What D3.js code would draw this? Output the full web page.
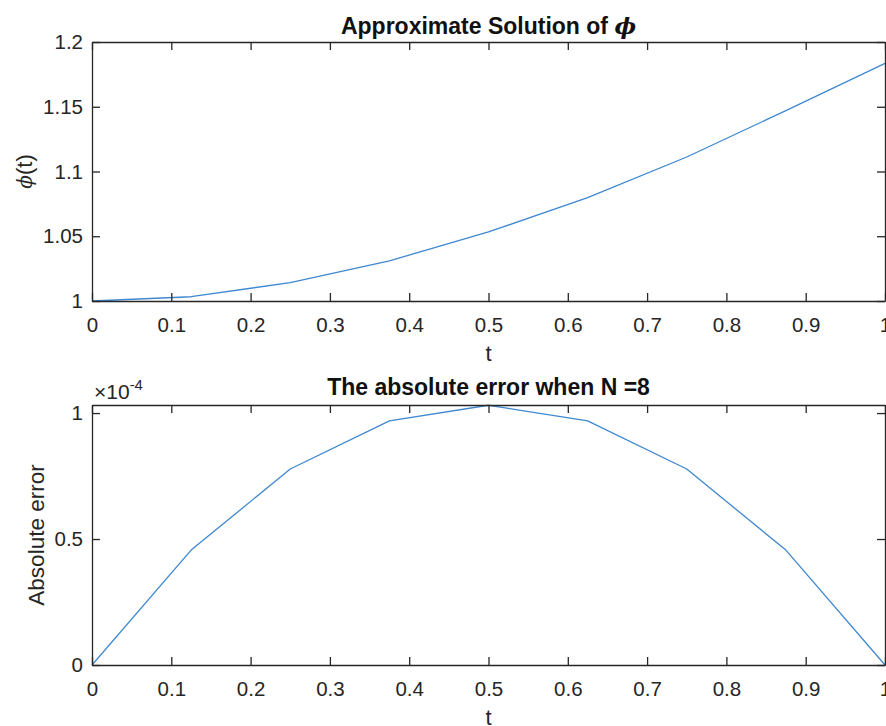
<!DOCTYPE html>
<html>
<head>
<meta charset="utf-8">
<script src="https://cdn.jsdelivr.net/npm/d3@7"></script>
<style>
  html, body { margin: 0; padding: 0; background: #fff; }
  svg { display: block; font-family: "Liberation Sans", Arial, Helvetica, sans-serif; }
</style>
</head>
<body>
<svg id="chart" width="886" height="726"></svg>
<script>
// ---- data ----
const tValues = [0, 0.125, 0.25, 0.375, 0.5, 0.625, 0.75, 0.875, 1];
const phiValues = [1.0, 1.0033, 1.0142, 1.0310, 1.0533, 1.0798, 1.1112, 1.1470, 1.1835];
const errorValues = [0, 0.456e-4, 0.778e-4, 0.969e-4, 1.031e-4, 0.969e-4, 0.778e-4, 0.456e-4, 0];
const xTicks = [0, 0.1, 0.2, 0.3, 0.4, 0.5, 0.6, 0.7, 0.8, 0.9, 1];
const xTickLabels = ["0", "0.1", "0.2", "0.3", "0.4", "0.5", "0.6", "0.7", "0.8", "0.9", "1"];
const phiTicks = [1, 1.05, 1.1, 1.15, 1.2];
const phiTickLabels = ["1", "1.05", "1.1", "1.15", "1.2"];
const errTicks = [0, 0.5e-4, 1e-4];
const errTickLabels = ["0", "0.5", "1"];
const title1 = "Approximate Solution of ";
const title2 = "The absolute error when N =8";

const svg = d3.select("#chart");
const axisColor = "#262626";
const lineColor = "#3f88cf";
const L = 92, R = 885;

function panel(cfg) {
  const x = d3.scaleLinear().domain([0, 1]).range([L, R]);
  const y = d3.scaleLinear().domain(cfg.yDomain).range([cfg.bottom, cfg.top]);
  const g = svg.append("g");

  // line
  const line = d3.line().x((d, i) => x(tValues[i])).y(d => y(d));
  g.append("path").datum(cfg.values)
    .attr("fill", "none").attr("stroke", lineColor).attr("stroke-width", 1.3)
    .attr("stroke-linejoin", "round").attr("d", line);

  const fmtX = (d, i) => xTickLabels[i];
  const ax = g.append("g").attr("transform", `translate(0,${cfg.bottom})`)
    .call(d3.axisBottom(x).tickValues(xTicks).tickFormat(fmtX).tickSize(-8).tickSizeOuter(0).tickPadding(16));
  const axT = g.append("g").attr("transform", `translate(0,${cfg.top})`)
    .call(d3.axisTop(x).tickValues(xTicks).tickFormat("").tickSize(-8).tickSizeOuter(0));
  const ay = g.append("g").attr("transform", `translate(${L},0)`)
    .call(d3.axisLeft(y).tickValues(cfg.yTicks).tickFormat((d, i) => cfg.yLabels[i]).tickSize(-8).tickSizeOuter(0).tickPadding(9));
  const ayR = g.append("g").attr("transform", `translate(${R},0)`)
    .call(d3.axisRight(y).tickValues(cfg.yTicks).tickFormat("").tickSize(-8).tickSizeOuter(0));

  [ax, axT, ay, ayR].forEach(a => {
    a.selectAll("path.domain").attr("stroke", axisColor).attr("stroke-width", 1.3);
    a.selectAll(".tick line").attr("stroke", axisColor).attr("stroke-width", 1.3);
    a.selectAll("text").attr("fill", axisColor).attr("font-size", 20.5)
      .attr("font-family", "'Liberation Sans', Arial, sans-serif");
  });

  // x label
  g.append("text").attr("x", (L + R) / 2).attr("y", cfg.bottom + 60)
    .attr("text-anchor", "middle").attr("font-size", 22).attr("fill", axisColor).text("t");

  return { g, x, y };
}

// top panel
const p1 = panel({ top: 42, bottom: 301, yDomain: [1, 1.2], values: phiValues, yTicks: phiTicks, yLabels: phiTickLabels });
const t1 = p1.g.append("text").attr("x", (L + R) / 2).attr("y", 34)
  .attr("text-anchor", "middle").attr("font-size", 23).attr("font-weight", "bold").attr("fill", "#111");
t1.append("tspan").text(title1);
t1.append("tspan").attr("font-style", "italic").attr("font-family", "'DejaVu Serif', serif").text("\u03D5");
const yl1 = p1.g.append("text").attr("transform", `translate(32,${(42 + 301) / 2}) rotate(-90)`)
  .attr("text-anchor", "middle").attr("font-size", 22).attr("fill", axisColor);
yl1.append("tspan").attr("font-style", "italic").attr("font-family", "'DejaVu Serif', serif").attr("font-size", 20).text("\u03D5");
yl1.append("tspan").text("(t)");

// bottom panel
const p2 = panel({ top: 405, bottom: 665, yDomain: [0, 1.032e-4], values: errorValues, yTicks: errTicks, yLabels: errTickLabels });
p2.g.append("text").attr("x", (L + R) / 2).attr("y", 395)
  .attr("text-anchor", "middle").attr("font-size", 23).attr("font-weight", "bold").attr("fill", "#111")
  .text(title2);
p2.g.append("text").attr("transform", `translate(44,${(405 + 665) / 2}) rotate(-90)`)
  .attr("text-anchor", "middle").attr("font-size", 22.5).attr("fill", axisColor).text("Absolute error");
const ex = p2.g.append("text").attr("x", 94).attr("y", 399).attr("font-size", 21).attr("fill", axisColor);
ex.append("tspan").text("\u00D710");
ex.append("tspan").attr("font-size", 15).attr("dy", -9).text("-4");
</script>
</body>
</html>
